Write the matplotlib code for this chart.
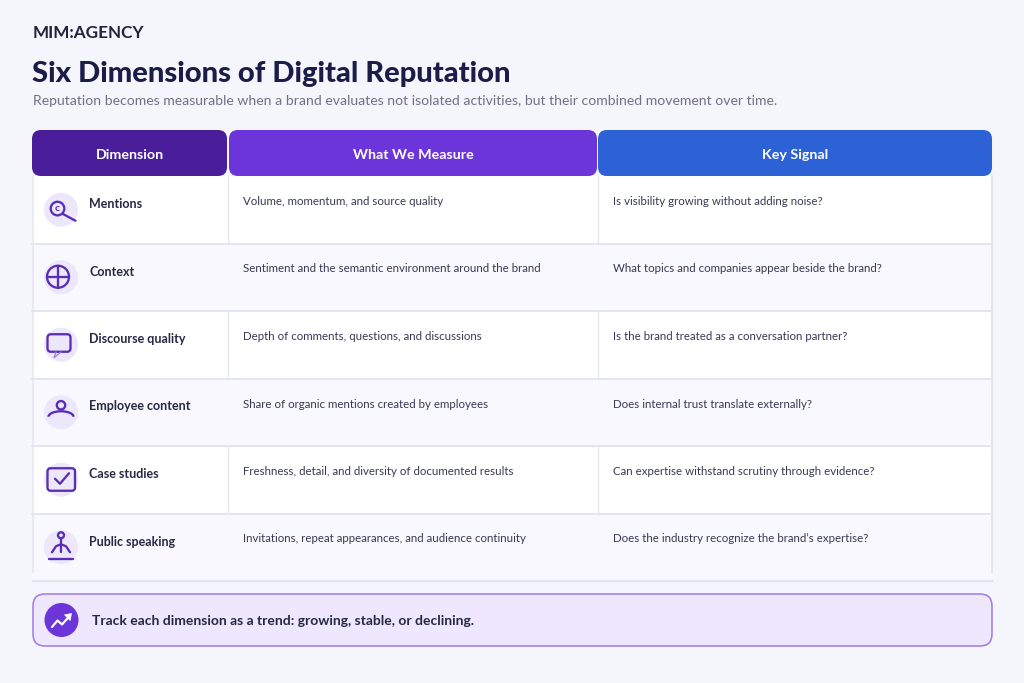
import matplotlib
matplotlib.use("Agg")
import matplotlib.pyplot as plt
from matplotlib.patches import FancyBboxPatch, Rectangle, Circle, Arc, Polygon

plt.rcParams["font.family"] = ["Lato", "DejaVu Sans"]

# ---- content -------------------------------------------------------------
brand = "MIM:AGENCY"
title = "Six Dimensions of Digital Reputation"
subtitle = ("Reputation becomes measurable when a brand evaluates not isolated "
            "activities, but their combined movement over time.")
headers = ["Dimension", "What We Measure", "Key Signal"]
dimensions = ["Mentions", "Context", "Discourse quality",
              "Employee content", "Case studies", "Public speaking"]
measures = ["Volume, momentum, and source quality",
            "Sentiment and the semantic environment around the brand",
            "Depth of comments, questions, and discussions",
            "Share of organic mentions created by employees",
            "Freshness, detail, and diversity of documented results",
            "Invitations, repeat appearances, and audience continuity"]
signals = ["Is visibility growing without adding noise?",
           "What topics and companies appear beside the brand?",
           "Is the brand treated as a conversation partner?",
           "Does internal trust translate externally?",
           "Can expertise withstand scrutiny through evidence?",
           "Does the industry recognize the brand\u2019s expertise?"]
footer = "Track each dimension as a trend: growing, stable, or declining."

# ---- styling -------------------------------------------------------------
BG = "#F5F6FB"
NAVY = "#1B1C48"
GREY = "#6E7286"
BODY = "#383A52"
HEAD_COLORS = ["#4A1E9A", "#6C35D9", "#2C62D6"]
ICON = "#5A2DB5"
ICON_BG = "#ECE7FB"
LINE = "#E3E5F3"
ALT = "#F8F8FE"
PX = 0.72  # one pixel in points at dpi=100

fig = plt.figure(figsize=(10.24, 6.83), dpi=100, facecolor=BG)
ax = fig.add_axes([0, 0, 1, 1])
ax.set_xlim(0, 1024)
ax.set_ylim(683, 0)
ax.axis("off")
ax.set_facecolor(BG)

# ---- titles --------------------------------------------------------------
ax.text(33, 38, brand, fontsize=12.3, fontweight="bold", color="#22233A", va="baseline")
ax.text(32, 82, title, fontsize=21, fontweight="black", color=NAVY, va="baseline")
ax.text(33, 105, subtitle, fontsize=10.05, color=GREY, va="baseline")

# ---- table geometry -------------------------------------------------------
col_edges = [32, 228, 598, 992]
head_top, head_bot = 130, 176
row_h = 67.5
n = len(dimensions)
table_bot = head_bot + n * row_h

# header cells
head_x = [(32, 227), (229, 597), (598, 992)]
for (x0, x1), label, c in zip(head_x, headers, HEAD_COLORS):
    ax.add_patch(FancyBboxPatch((x0, head_top), x1 - x0, head_bot - head_top,
                                boxstyle="round,pad=0,rounding_size=9",
                                fc=c, ec="none", zorder=3))
    ax.text((x0 + x1) / 2, 159, label, fontsize=10.3, fontweight="bold",
            color="white", ha="center", va="baseline", zorder=4)

# body rows
for i in range(n):
    top = head_bot + i * row_h
    fill = "white" if i % 2 == 0 else ALT
    ax.add_patch(Rectangle((32, top), 960, row_h, fc=fill, ec="none", zorder=1))
    if i % 2 == 0:
        for x in col_edges[1:3]:
            ax.plot([x, x], [top, top + row_h], color=LINE, lw=1.3 * PX, zorder=2)
    if i > 0:
        ax.plot([32, 992], [top, top], color=LINE, lw=2 * PX, zorder=2)
    ax.text(89, top + 32, dimensions[i], fontsize=9.0, fontweight="bold",
            color="#272946", va="baseline", zorder=4)
    ax.text(243, top + 29, measures[i], fontsize=8.3, color=BODY,
            va="baseline", zorder=4)
    ax.text(613, top + 29, signals[i], fontsize=8.3, color=BODY,
            va="baseline", zorder=4)
    ax.add_patch(Circle((61, top + row_h / 2), 17, fc=ICON_BG, ec="none", zorder=3))

# outer borders and bottom rule
ax.plot([32.5, 32.5], [head_bot, table_bot - 9], color=LINE, lw=1.5 * PX, zorder=2)
ax.plot([991.5, 991.5], [head_bot, table_bot - 9], color=LINE, lw=2 * PX, zorder=2)
ax.plot([33, 992], [table_bot, table_bot], color="#E1E3F0", lw=2.2 * PX, zorder=2)

# ---- icons ---------------------------------------------------------------
lw = 2.3 * PX
kw = dict(color=ICON, lw=lw, zorder=5, solid_capstyle="round")
cy = [head_bot + i * row_h + row_h / 2 for i in range(n)]

# mentions: magnifier with a "c"
ax.add_patch(Circle((57.5, cy[0] - 1.2), 6.8, fc="none", ec=ICON, lw=lw, zorder=5))
ax.text(57.5, cy[0] - 1.0, "c", fontsize=7.5, fontweight="bold", color=ICON,
        ha="center", va="center", zorder=5)
ax.plot([62.5, 75.5], [cy[0] + 4, cy[0] + 11], **kw)

# context: crosshair circle
ax.add_patch(Circle((58, cy[1] - 0.5), 11, fc="none", ec=ICON, lw=lw, zorder=5))
ax.plot([58, 58], [cy[1] - 11.5, cy[1] + 10.5], **kw)
ax.plot([47, 69], [cy[1] - 0.5, cy[1] - 0.5], **kw)

# discourse: speech bubble
ax.add_patch(FancyBboxPatch((47.5, cy[2] - 10.5), 23, 17.5,
                            boxstyle="round,pad=0,rounding_size=3.5",
                            fc="none", ec=ICON, lw=lw, zorder=5))
ax.plot([56, 54, 61], [cy[2] + 7.2, cy[2] + 13, cy[2] + 7.2], color="#9A80D8",
        lw=1.2 * PX, zorder=5)

# employee: person
ax.add_patch(Circle((61, cy[3] - 7), 4.2, fc="none", ec=ICON, lw=lw, zorder=5))
ax.add_patch(Arc((61, cy[3] + 4.5), 25, 11, theta1=180, theta2=360,
                 ec=ICON, lw=lw, zorder=5))

# case studies: framed checkmark
ax.add_patch(FancyBboxPatch((47.5, cy[4] - 11.5), 27.5, 22.5,
                            boxstyle="round,pad=0,rounding_size=3",
                            fc="none", ec=ICON, lw=lw, zorder=5))
ax.plot([55, 60, 69], [cy[4] - 1, cy[4] + 4, cy[4] - 6.5], **kw)

# public speaking: microphone figure
ax.add_patch(Circle((61, cy[5] - 12), 3, fc="none", ec=ICON, lw=lw, zorder=5))
ax.plot([61, 61], [cy[5] - 9, cy[5] + 4.5], **kw)
ax.plot([52, 56, 61, 66, 70], [cy[5] + 5, cy[5] - 1, cy[5] - 3, cy[5] - 1, cy[5] + 5], **kw)
ax.plot([49, 73], [cy[5] + 12, cy[5] + 12], **kw)

# ---- footer ----------------------------------------------------------------
ax.add_patch(FancyBboxPatch((33, 594), 959, 52,
                            boxstyle="round,pad=0,rounding_size=12",
                            fc="#EEE7FD", ec="#A57DEB", lw=1.6 * PX, zorder=3))
ax.add_patch(Circle((61.5, 620), 17, fc="#6C35D9", ec="none", zorder=4))
ax.plot([52, 57.5, 62, 70], [627, 620.5, 624.5, 615.5], color="white",
        lw=2.2 * PX, zorder=5, solid_capstyle="round", solid_joinstyle="round")
ax.add_patch(Polygon([[71.5, 613.5], [64.5, 614.8], [70.2, 620.5]], closed=True,
                     fc="white", ec="white", lw=0.5, zorder=5))
ax.text(92, 625, footer, fontsize=10.0, fontweight="bold", color="#262844",
        va="baseline", zorder=5)

fig.savefig("out.png", dpi=100, facecolor=BG)
